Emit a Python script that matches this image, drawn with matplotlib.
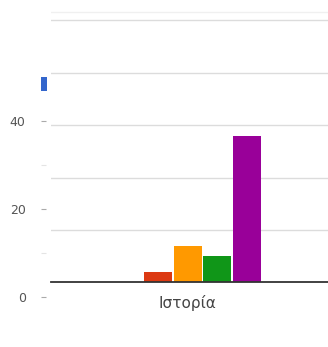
import matplotlib
matplotlib.use("Agg")
import matplotlib.pyplot as plt
from matplotlib.patches import Rectangle

# Data
categories = ["Ιστορία"]
series_names = ["1", "2", "3", "4", "5"]
series_values = [[0], [2], [7], [5], [28]]
series_colors = ["#3366cc", "#dc3912", "#ff9900", "#109618", "#990099"]
axis_ticks = [0, 20, 40]
axis_minor = [10, 30]
grid_values = [10, 20, 30, 40, 50]

W, H = 328, 347
fig = plt.figure(figsize=(W / 100, H / 100), dpi=100)
fig.patch.set_facecolor("white")

def fx(px):
    return px / W

def fy(py):
    return 1 - py / H

# Plot area for the bars (runs off the right edge)
left, right, base, top = 51, 328, 282.3, 0
group_span = 273.0
ax = fig.add_axes([fx(left), fy(base), fx(right - left), (base - top) / H])
px_per_unit = 5.24
ax.set_ylim(0, (base - top) / px_per_unit)
ax.set_xlim(-0.5, -0.5 + (right - left) / group_span)

for g in grid_values:
    ax.axhline(g, color="#dcdcdc", lw=1.0, zorder=0)
ax.axhline((base - 12) / px_per_unit, color="#f0f0f0", lw=1.0, zorder=0)

bw = 28 / group_span
step = 29.5 / group_span
n = len(series_values)
for i, (vals, col) in enumerate(zip(series_values, series_colors)):
    xs = [c + (i - (n - 1) / 2) * step for c in range(len(categories))]
    ax.bar(xs, vals, width=bw, color=col, zorder=2, linewidth=0)

ax.axhline(0, color="#333333", lw=1.3, zorder=3, clip_on=False)
for s in ax.spines.values():
    s.set_visible(False)
ax.set_yticks([])
ax.set_xticks(range(len(categories)))
ax.set_xticklabels(categories, fontsize=11, color="#444444", family="DejaVu Sans")
ax.tick_params(axis="x", length=0, pad=9)

# Value axis labels
lab = fig.add_axes([fx(46), fy(297), 0.001, (297 - 121) / H])
lab.set_ylim(0, 40)
lab.set_yticks(axis_ticks)
lab.set_yticks(axis_minor, minor=True)
lab.set_yticklabels([str(t) for t in axis_ticks], fontsize=9, color="#555555",
                    family="DejaVu Sans")
lab.tick_params(axis="y", which="major", length=3.6, width=0.8, color="#aaaaaa", pad=11)
lab.tick_params(axis="y", which="minor", length=3.6, width=0.8, color="#e4e4e4")
lab.set_xticks([])
for s in lab.spines.values():
    s.set_visible(False)
lab.patch.set_alpha(0)

# Legend marker for the first series
fig.patches.append(Rectangle((fx(41), fy(91)), fx(6), 14 / H, transform=fig.transFigure,
                             facecolor=series_colors[0], edgecolor="none"))

fig.savefig("out.png", dpi=100, facecolor="white")
